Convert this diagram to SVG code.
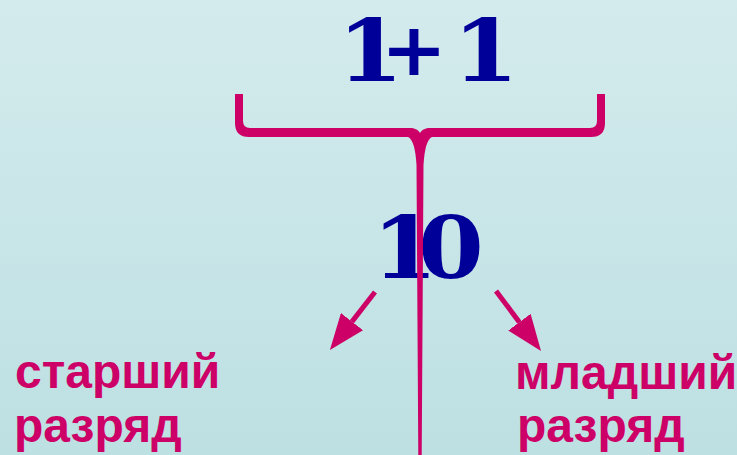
<svg xmlns="http://www.w3.org/2000/svg" width="737" height="455" viewBox="0 0 737 455">
<defs>
<linearGradient id="bg" x1="0" y1="0" x2="0" y2="1">
<stop offset="0" stop-color="#d4ebed"/>
<stop offset="1" stop-color="#bde0e3"/>
</linearGradient>
<marker id="ah" markerUnits="userSpaceOnUse" markerWidth="36" markerHeight="28" refX="0" refY="14" orient="auto" viewBox="0 0 36 28">
<path d="M0,0 L36,14 L0,28 Z" fill="#cc0066"/>
</marker>
<style>
.num{font-family:"DejaVu Serif",serif;font-weight:bold;font-size:86px;fill:#000099;text-anchor:middle}
.plus{font-size:72px}
.lbl{font-family:"Liberation Sans",Arial,sans-serif;font-weight:bold;font-size:48px;fill:#cc0066}
.arr{stroke:#cc0066;stroke-width:5;fill:none;marker-end:url(#ah)}
</style>
</defs>
<rect width="737" height="455" fill="url(#bg)"/>
<g id="sum">
<text class="num" transform="scale(1.1,1)" y="81"><tspan x="336.8">1</tspan><tspan class="plus" x="376.4" y="75">+</tspan><tspan x="400" y="81"> </tspan><tspan x="441.5">1</tspan></text>
</g>
<g id="result">
<text class="num" transform="scale(1.1,1)" x="368 410" y="278">10</text>
</g>
<g id="high">
<text class="lbl" x="15" y="388">старший</text>
<text class="lbl" x="14" y="442">разряд</text>
</g>
<g id="low">
<text class="lbl" x="515" y="389">младший</text>
<text class="lbl" x="517" y="442">разряд</text>
</g>
<g id="connectors">
<path id="brace" fill="#cc0066" d="M235,94 L235,123 Q235,137 249,137 L408,137 Q415,140 416.5,165 L418.3,455 L421.7,455 L423.5,165 Q425,140 432,137 L591,137 Q605,137 605,123 L605,94 L597,94 L597,121 Q597,128 590,128 L428,128 Q422,129 420,133 Q418,129 412,128 L250,128 Q243,128 243,121 L243,94 Z"/>
<line class="arr" x1="375" y1="292" x2="352" y2="321.6"/>
<line class="arr" x1="496" y1="291" x2="519.4" y2="322.2"/>
</g>
</svg>
